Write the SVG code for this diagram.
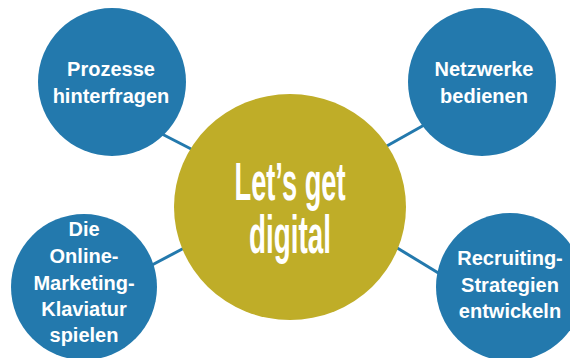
<svg xmlns="http://www.w3.org/2000/svg" width="570" height="358" viewBox="0 0 570 358">
<style>
.blue{fill:#2379ad}
.gold{fill:#bfad28}
.lbl{font-family:"Liberation Sans",Arial,sans-serif;font-weight:bold;font-size:20px;fill:#fff;text-anchor:middle}
.big{font-family:"Liberation Sans",Arial,sans-serif;font-weight:bold;font-size:54px;fill:#fff;text-anchor:middle}
.con{stroke:#2379ad;stroke-width:3;fill:none}
</style>
<rect width="570" height="358" fill="#fff"/>
<g id="connectors">
<line class="con" x1="160" y1="133" x2="195" y2="151"/>
<line class="con" x1="385" y1="147" x2="426" y2="124"/>
<line class="con" x1="152" y1="265" x2="186" y2="247"/>
<line class="con" x1="394" y1="246" x2="440" y2="274"/>
</g>
<g id="center">
<ellipse class="gold" cx="290" cy="207" rx="116" ry="113"/>
<text class="big" x="290" y="200" textLength="111" lengthAdjust="spacingAndGlyphs">Let’s get</text>
<text class="big" x="290" y="253" textLength="82" lengthAdjust="spacingAndGlyphs">digital</text>
</g>
<g id="n1">
<circle class="blue" cx="112" cy="82" r="74"/>
<text class="lbl" x="111" y="76">Prozesse</text>
<text class="lbl" x="111" y="103">hinterfragen</text>
</g>
<g id="n2">
<circle class="blue" cx="482" cy="82" r="74"/>
<text class="lbl" x="484" y="76">Netzwerke</text>
<text class="lbl" x="484" y="103">bedienen</text>
</g>
<g id="n3">
<circle class="blue" cx="84" cy="287" r="73"/>
<text class="lbl" x="84" y="236">Die</text>
<text class="lbl" x="84" y="263">Online-</text>
<text class="lbl" x="84" y="290">Marketing-</text>
<text class="lbl" x="84" y="316">Klaviatur</text>
<text class="lbl" x="84" y="342">spielen</text>
</g>
<g id="n4">
<circle class="blue" cx="510" cy="287" r="74"/>
<text class="lbl" x="510" y="265">Recruiting-</text>
<text class="lbl" x="510" y="292">Strategien</text>
<text class="lbl" x="510" y="318">entwickeln</text>
</g>
</svg>
